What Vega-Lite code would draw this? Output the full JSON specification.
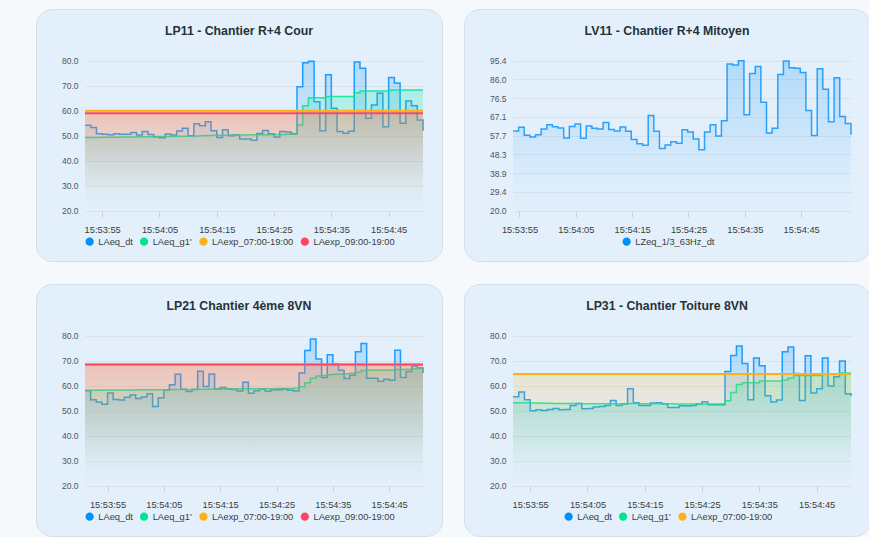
{
"$schema":"https://vega.github.io/schema/vega-lite/v6.json",
"background":"#f6f9fc",
"padding":{"left":35,"top":8,"right":0,"bottom":0},
"columns":2,
"bounds":"flush",
"spacing":{"row":23,"column":22},
"resolve":{"scale":{"color":"independent","x":"independent","y":"independent"},"legend":{"color":"independent"}},
"config":{"view":{"fill":"#e3f0fb","stroke":"#d3dee9","strokeWidth":1,"cornerRadius":16},"font":"Liberation Sans"},
"datasets":{
"lp11":[
{"t":"2024-05-10T15:53:52","dt":54.2,"g1":49.3},{"t":"2024-05-10T15:53:53","dt":53.3,"g1":49.3},{"t":"2024-05-10T15:53:54","dt":50.8,"g1":49.3},{"t":"2024-05-10T15:53:55","dt":50.6,"g1":49.4},{"t":"2024-05-10T15:53:56","dt":50.4,"g1":49.4},{"t":"2024-05-10T15:53:57","dt":50.8,"g1":49.4},{"t":"2024-05-10T15:53:58","dt":50.6,"g1":49.5},{"t":"2024-05-10T15:53:59","dt":50.6,"g1":49.5},
{"t":"2024-05-10T15:54:00","dt":51.3,"g1":49.5},{"t":"2024-05-10T15:54:01","dt":50.3,"g1":49.6},{"t":"2024-05-10T15:54:02","dt":51.7,"g1":49.6},{"t":"2024-05-10T15:54:03","dt":50.5,"g1":49.6},{"t":"2024-05-10T15:54:04","dt":49.6,"g1":49.7},{"t":"2024-05-10T15:54:05","dt":49.2,"g1":49.7},{"t":"2024-05-10T15:54:06","dt":50.7,"g1":49.7},{"t":"2024-05-10T15:54:07","dt":50.3,"g1":49.7},{"t":"2024-05-10T15:54:08","dt":51.9,"g1":49.8},{"t":"2024-05-10T15:54:09","dt":53.0,"g1":49.8},
{"t":"2024-05-10T15:54:10","dt":50.0,"g1":49.9},{"t":"2024-05-10T15:54:11","dt":54.8,"g1":49.9},{"t":"2024-05-10T15:54:12","dt":54.0,"g1":50.0},{"t":"2024-05-10T15:54:13","dt":55.6,"g1":50.1},{"t":"2024-05-10T15:54:14","dt":52.0,"g1":50.2},{"t":"2024-05-10T15:54:15","dt":49.3,"g1":50.2},{"t":"2024-05-10T15:54:16","dt":52.4,"g1":50.2},{"t":"2024-05-10T15:54:17","dt":50.0,"g1":50.3},{"t":"2024-05-10T15:54:18","dt":50.4,"g1":50.3},{"t":"2024-05-10T15:54:19","dt":48.7,"g1":50.3},
{"t":"2024-05-10T15:54:20","dt":48.7,"g1":50.4},{"t":"2024-05-10T15:54:21","dt":48.2,"g1":50.4},{"t":"2024-05-10T15:54:22","dt":50.9,"g1":50.4},{"t":"2024-05-10T15:54:23","dt":52.1,"g1":50.4},{"t":"2024-05-10T15:54:24","dt":50.8,"g1":50.5},{"t":"2024-05-10T15:54:25","dt":49.5,"g1":50.5},{"t":"2024-05-10T15:54:26","dt":51.7,"g1":50.5},{"t":"2024-05-10T15:54:27","dt":51.5,"g1":50.6},{"t":"2024-05-10T15:54:28","dt":50.8,"g1":50.6},{"t":"2024-05-10T15:54:29","dt":69.6,"g1":54.3},
{"t":"2024-05-10T15:54:30","dt":79.2,"g1":62.0},{"t":"2024-05-10T15:54:31","dt":79.8,"g1":65.2},{"t":"2024-05-10T15:54:32","dt":63.6,"g1":65.2},{"t":"2024-05-10T15:54:33","dt":52.0,"g1":65.2},{"t":"2024-05-10T15:54:34","dt":74.4,"g1":65.7},{"t":"2024-05-10T15:54:35","dt":61.0,"g1":65.7},{"t":"2024-05-10T15:54:36","dt":51.7,"g1":65.7},{"t":"2024-05-10T15:54:37","dt":51.0,"g1":65.7},{"t":"2024-05-10T15:54:38","dt":51.8,"g1":65.7},{"t":"2024-05-10T15:54:39","dt":79.5,"g1":67.2},
{"t":"2024-05-10T15:54:40","dt":77.0,"g1":67.9},{"t":"2024-05-10T15:54:41","dt":57.0,"g1":67.9},{"t":"2024-05-10T15:54:42","dt":62.3,"g1":67.9},{"t":"2024-05-10T15:54:43","dt":67.0,"g1":67.9},{"t":"2024-05-10T15:54:44","dt":53.6,"g1":67.9},{"t":"2024-05-10T15:54:45","dt":73.3,"g1":68.3},{"t":"2024-05-10T15:54:46","dt":71.1,"g1":68.3},{"t":"2024-05-10T15:54:47","dt":55.0,"g1":68.3},{"t":"2024-05-10T15:54:48","dt":63.9,"g1":68.3},{"t":"2024-05-10T15:54:49","dt":62.0,"g1":68.3},
{"t":"2024-05-10T15:54:50","dt":56.3,"g1":68.3},{"t":"2024-05-10T15:54:51","dt":52.0,"g1":68.3}
],
"lp11_lim":[{"t":"2024-05-10T15:53:52","e7":60,"e9":59},{"t":"2024-05-10T15:54:51","e7":60,"e9":59}],
"lv11":[
{"t":"2024-05-10T15:53:53.850","lz":60.0},{"t":"2024-05-10T15:53:54.850","lz":62.0},{"t":"2024-05-10T15:53:55.850","lz":57.9},{"t":"2024-05-10T15:53:56.850","lz":57.0},{"t":"2024-05-10T15:53:57.850","lz":58.2},{"t":"2024-05-10T15:53:58.850","lz":61.1},{"t":"2024-05-10T15:53:59.850","lz":63.2},
{"t":"2024-05-10T15:54:00.850","lz":62.2},{"t":"2024-05-10T15:54:01.850","lz":61.6},{"t":"2024-05-10T15:54:02.850","lz":56.5},{"t":"2024-05-10T15:54:03.850","lz":62.3},{"t":"2024-05-10T15:54:04.850","lz":63.6},{"t":"2024-05-10T15:54:05.850","lz":56.4},{"t":"2024-05-10T15:54:06.850","lz":62.6},{"t":"2024-05-10T15:54:07.850","lz":61.5},{"t":"2024-05-10T15:54:08.850","lz":61.1},{"t":"2024-05-10T15:54:09.850","lz":64.3},
{"t":"2024-05-10T15:54:10.850","lz":60.8},{"t":"2024-05-10T15:54:11.850","lz":60.0},{"t":"2024-05-10T15:54:12.850","lz":62.1},{"t":"2024-05-10T15:54:13.850","lz":59.9},{"t":"2024-05-10T15:54:14.850","lz":55.8},{"t":"2024-05-10T15:54:15.850","lz":53.6},{"t":"2024-05-10T15:54:16.850","lz":52.9},{"t":"2024-05-10T15:54:17.850","lz":67.8},{"t":"2024-05-10T15:54:18.850","lz":59.9},{"t":"2024-05-10T15:54:19.850","lz":51.3},
{"t":"2024-05-10T15:54:20.850","lz":53.0},{"t":"2024-05-10T15:54:21.850","lz":54.7},{"t":"2024-05-10T15:54:22.850","lz":53.9},{"t":"2024-05-10T15:54:23.850","lz":60.7},{"t":"2024-05-10T15:54:24.850","lz":59.6},{"t":"2024-05-10T15:54:25.850","lz":56.0},{"t":"2024-05-10T15:54:26.850","lz":50.7},{"t":"2024-05-10T15:54:27.850","lz":59.6},{"t":"2024-05-10T15:54:28.850","lz":63.2},{"t":"2024-05-10T15:54:29.850","lz":57.5},
{"t":"2024-05-10T15:54:30.850","lz":65.2},{"t":"2024-05-10T15:54:31.850","lz":93.8},{"t":"2024-05-10T15:54:32.850","lz":93.2},{"t":"2024-05-10T15:54:33.850","lz":95.4},{"t":"2024-05-10T15:54:34.850","lz":68.2},{"t":"2024-05-10T15:54:35.850","lz":89.0},{"t":"2024-05-10T15:54:36.850","lz":92.5},{"t":"2024-05-10T15:54:37.850","lz":74.5},{"t":"2024-05-10T15:54:38.850","lz":59.0},{"t":"2024-05-10T15:54:39.850","lz":61.4},
{"t":"2024-05-10T15:54:40.850","lz":88.5},{"t":"2024-05-10T15:54:41.850","lz":95.3},{"t":"2024-05-10T15:54:42.850","lz":91.8},{"t":"2024-05-10T15:54:43.850","lz":91.6},{"t":"2024-05-10T15:54:44.850","lz":89.5},{"t":"2024-05-10T15:54:45.850","lz":70.4},{"t":"2024-05-10T15:54:46.850","lz":57.8},{"t":"2024-05-10T15:54:47.850","lz":91.4},{"t":"2024-05-10T15:54:48.850","lz":81.1},{"t":"2024-05-10T15:54:49.850","lz":64.7},
{"t":"2024-05-10T15:54:50.850","lz":86.8},{"t":"2024-05-10T15:54:51.850","lz":67.4},{"t":"2024-05-10T15:54:52.850","lz":63.8},{"t":"2024-05-10T15:54:53.850","lz":58.2}
],
"lp21":[
{"t":"2024-05-10T15:53:51","dt":58.0,"g1":58.2},{"t":"2024-05-10T15:53:52","dt":54.4,"g1":58.2},{"t":"2024-05-10T15:53:53","dt":53.5,"g1":58.2},{"t":"2024-05-10T15:53:54","dt":52.6,"g1":58.3},{"t":"2024-05-10T15:53:55","dt":57.1,"g1":58.3},{"t":"2024-05-10T15:53:56","dt":54.5,"g1":58.3},{"t":"2024-05-10T15:53:57","dt":54.3,"g1":58.3},{"t":"2024-05-10T15:53:58","dt":55.4,"g1":58.3},{"t":"2024-05-10T15:53:59","dt":56.3,"g1":58.3},
{"t":"2024-05-10T15:54:00","dt":54.9,"g1":58.4},{"t":"2024-05-10T15:54:01","dt":55.5,"g1":58.4},{"t":"2024-05-10T15:54:02","dt":56.8,"g1":58.4},{"t":"2024-05-10T15:54:03","dt":51.7,"g1":58.4},{"t":"2024-05-10T15:54:04","dt":55.2,"g1":58.4},{"t":"2024-05-10T15:54:05","dt":58.3,"g1":58.4},{"t":"2024-05-10T15:54:06","dt":60.4,"g1":58.5},{"t":"2024-05-10T15:54:07","dt":64.6,"g1":58.5},{"t":"2024-05-10T15:54:08","dt":58.6,"g1":58.5},{"t":"2024-05-10T15:54:09","dt":57.7,"g1":58.5},
{"t":"2024-05-10T15:54:10","dt":58.5,"g1":58.6},{"t":"2024-05-10T15:54:11","dt":65.8,"g1":58.6},{"t":"2024-05-10T15:54:12","dt":59.7,"g1":58.6},{"t":"2024-05-10T15:54:13","dt":64.7,"g1":58.7},{"t":"2024-05-10T15:54:14","dt":58.7,"g1":58.7},{"t":"2024-05-10T15:54:15","dt":59.3,"g1":58.7},{"t":"2024-05-10T15:54:16","dt":58.8,"g1":58.7},{"t":"2024-05-10T15:54:17","dt":58.5,"g1":58.7},{"t":"2024-05-10T15:54:18","dt":57.9,"g1":58.8},{"t":"2024-05-10T15:54:19","dt":61.4,"g1":58.8},
{"t":"2024-05-10T15:54:20","dt":57.0,"g1":58.8},{"t":"2024-05-10T15:54:21","dt":58.0,"g1":58.8},{"t":"2024-05-10T15:54:22","dt":58.7,"g1":58.8},{"t":"2024-05-10T15:54:23","dt":57.8,"g1":58.8},{"t":"2024-05-10T15:54:24","dt":58.4,"g1":58.8},{"t":"2024-05-10T15:54:25","dt":58.4,"g1":58.9},{"t":"2024-05-10T15:54:26","dt":58.7,"g1":58.9},{"t":"2024-05-10T15:54:27","dt":58.2,"g1":58.9},{"t":"2024-05-10T15:54:28","dt":57.9,"g1":59.0},{"t":"2024-05-10T15:54:29","dt":65.1,"g1":59.6},
{"t":"2024-05-10T15:54:30","dt":74.1,"g1":61.2},{"t":"2024-05-10T15:54:31","dt":78.7,"g1":63.0},{"t":"2024-05-10T15:54:32","dt":70.7,"g1":63.9},{"t":"2024-05-10T15:54:33","dt":63.3,"g1":64.1},{"t":"2024-05-10T15:54:34","dt":72.4,"g1":64.4},{"t":"2024-05-10T15:54:35","dt":68.7,"g1":64.6},{"t":"2024-05-10T15:54:36","dt":66.2,"g1":64.7},{"t":"2024-05-10T15:54:37","dt":62.9,"g1":64.8},{"t":"2024-05-10T15:54:38","dt":64.2,"g1":65.0},{"t":"2024-05-10T15:54:39","dt":73.6,"g1":65.5},
{"t":"2024-05-10T15:54:40","dt":76.9,"g1":66.1},{"t":"2024-05-10T15:54:41","dt":63.0,"g1":66.2},{"t":"2024-05-10T15:54:42","dt":63.0,"g1":66.3},{"t":"2024-05-10T15:54:43","dt":61.8,"g1":66.3},{"t":"2024-05-10T15:54:44","dt":62.6,"g1":66.3},{"t":"2024-05-10T15:54:45","dt":62.2,"g1":66.3},{"t":"2024-05-10T15:54:46","dt":74.2,"g1":66.5},{"t":"2024-05-10T15:54:47","dt":63.3,"g1":66.5},{"t":"2024-05-10T15:54:48","dt":65.7,"g1":66.6},{"t":"2024-05-10T15:54:49","dt":67.9,"g1":66.8},
{"t":"2024-05-10T15:54:50","dt":67.1,"g1":67.0},{"t":"2024-05-10T15:54:51","dt":65.1,"g1":67.0}
],
"lp21_lim":[{"t":"2024-05-10T15:53:51","e7":68.5,"e9":68.5},{"t":"2024-05-10T15:54:51","e7":68.5,"e9":68.5}],
"lp31":[
{"t":"2024-05-10T15:53:52","dt":55.6,"g1":53.2},{"t":"2024-05-10T15:53:53","dt":57.5,"g1":53.2},{"t":"2024-05-10T15:53:54","dt":54.4,"g1":53.2},{"t":"2024-05-10T15:53:55","dt":50.0,"g1":53.1},{"t":"2024-05-10T15:53:56","dt":50.4,"g1":53.1},{"t":"2024-05-10T15:53:57","dt":50.1,"g1":53.0},{"t":"2024-05-10T15:53:58","dt":50.5,"g1":53.0},{"t":"2024-05-10T15:53:59","dt":50.9,"g1":52.9},
{"t":"2024-05-10T15:54:00","dt":50.4,"g1":52.9},{"t":"2024-05-10T15:54:01","dt":50.5,"g1":52.9},{"t":"2024-05-10T15:54:02","dt":52.1,"g1":52.9},{"t":"2024-05-10T15:54:03","dt":52.9,"g1":52.9},{"t":"2024-05-10T15:54:04","dt":50.8,"g1":52.8},{"t":"2024-05-10T15:54:05","dt":50.9,"g1":52.8},{"t":"2024-05-10T15:54:06","dt":51.5,"g1":52.8},{"t":"2024-05-10T15:54:07","dt":51.7,"g1":52.8},{"t":"2024-05-10T15:54:08","dt":52.1,"g1":52.8},{"t":"2024-05-10T15:54:09","dt":54.1,"g1":52.8},
{"t":"2024-05-10T15:54:10","dt":52.1,"g1":52.8},{"t":"2024-05-10T15:54:11","dt":52.7,"g1":52.8},{"t":"2024-05-10T15:54:12","dt":58.8,"g1":52.9},{"t":"2024-05-10T15:54:13","dt":53.2,"g1":52.9},{"t":"2024-05-10T15:54:14","dt":52.1,"g1":52.8},{"t":"2024-05-10T15:54:15","dt":52.1,"g1":52.8},{"t":"2024-05-10T15:54:16","dt":53.1,"g1":52.8},{"t":"2024-05-10T15:54:17","dt":53.2,"g1":52.8},{"t":"2024-05-10T15:54:18","dt":52.7,"g1":52.8},{"t":"2024-05-10T15:54:19","dt":51.3,"g1":52.8},
{"t":"2024-05-10T15:54:20","dt":51.3,"g1":52.7},{"t":"2024-05-10T15:54:21","dt":52.0,"g1":52.7},{"t":"2024-05-10T15:54:22","dt":51.9,"g1":52.7},{"t":"2024-05-10T15:54:23","dt":52.1,"g1":52.7},{"t":"2024-05-10T15:54:24","dt":52.7,"g1":52.7},{"t":"2024-05-10T15:54:25","dt":53.6,"g1":52.7},{"t":"2024-05-10T15:54:26","dt":52.4,"g1":52.7},{"t":"2024-05-10T15:54:27","dt":52.4,"g1":52.7},{"t":"2024-05-10T15:54:28","dt":52.4,"g1":52.7},{"t":"2024-05-10T15:54:29","dt":65.7,"g1":54.0},
{"t":"2024-05-10T15:54:30","dt":72.1,"g1":57.3},{"t":"2024-05-10T15:54:31","dt":75.9,"g1":60.5},{"t":"2024-05-10T15:54:32","dt":68.9,"g1":61.2},{"t":"2024-05-10T15:54:33","dt":54.4,"g1":61.2},{"t":"2024-05-10T15:54:34","dt":71.1,"g1":61.2},{"t":"2024-05-10T15:54:35","dt":68.0,"g1":61.9},{"t":"2024-05-10T15:54:36","dt":56.0,"g1":61.9},{"t":"2024-05-10T15:54:37","dt":53.5,"g1":61.9},{"t":"2024-05-10T15:54:38","dt":54.3,"g1":61.9},{"t":"2024-05-10T15:54:39","dt":73.6,"g1":62.3},
{"t":"2024-05-10T15:54:40","dt":75.5,"g1":63.1},{"t":"2024-05-10T15:54:41","dt":64.9,"g1":64.1},{"t":"2024-05-10T15:54:42","dt":54.1,"g1":64.1},{"t":"2024-05-10T15:54:43","dt":72.0,"g1":64.1},{"t":"2024-05-10T15:54:44","dt":57.1,"g1":64.1},{"t":"2024-05-10T15:54:45","dt":58.8,"g1":64.1},{"t":"2024-05-10T15:54:46","dt":71.1,"g1":64.6},{"t":"2024-05-10T15:54:47","dt":59.9,"g1":64.6},{"t":"2024-05-10T15:54:48","dt":63.6,"g1":64.6},{"t":"2024-05-10T15:54:49","dt":69.9,"g1":65.1},
{"t":"2024-05-10T15:54:50","dt":56.8,"g1":65.1},{"t":"2024-05-10T15:54:51","dt":55.9,"g1":65.1}
],
"lp31_lim":[{"t":"2024-05-10T15:53:52","e7":64.7},{"t":"2024-05-10T15:54:51","e7":64.7}]
},
"concat":[
{
"width":406,"height":252,
"title":{"text":"LP11 - Chantier R+4 Cour","anchor":"middle","frame":"group","orient":"top","offset":-34,"baseline":"middle","font":"Liberation Sans","fontSize":12.3,"fontWeight":"bold","color":"#263238"},
"encoding":{"x":{"field":"t","type":"temporal","scale":{"range":[49,387],"nice":false},"axis":{"orient":"bottom","offset":-50.3,"values":[{"year":2024,"month":5,"date":10,"hours":15,"minutes":53,"seconds":55},{"year":2024,"month":5,"date":10,"hours":15,"minutes":54,"seconds":5},{"year":2024,"month":5,"date":10,"hours":15,"minutes":54,"seconds":15},{"year":2024,"month":5,"date":10,"hours":15,"minutes":54,"seconds":25},{"year":2024,"month":5,"date":10,"hours":15,"minutes":54,"seconds":35},{"year":2024,"month":5,"date":10,"hours":15,"minutes":54,"seconds":45}],"format":"%H:%M:%S","labelFont":"Liberation Sans","labelFontSize":9.3,"labelColor":"#373d3f","tickSize":6,"tickColor":"#c9d1d9","domain":false,"grid":false,"labelPadding":9,"title":null,"labelOverlap":false,"labelFlush":false}}},
"layer":[
{"data":{"name":"lp11"},"mark":{"type":"area","interpolate":"step-after","fill":{"gradient":"linear","x1":0,"y1":0,"x2":0,"y2":1,"stops":[{"offset":0,"color":"rgba(0,143,251,0.22)"},{"offset":0.5,"color":"rgba(0,143,251,0.09)"},{"offset":0.8,"color":"rgba(0,143,251,0.02)"},{"offset":1,"color":"rgba(0,143,251,0)"}]}},"encoding":{"y":{"field":"dt","type":"quantitative","scale":{"domain":[20,80],"range":[201.7,51.7],"zero":false,"nice":false},"axis":{"orient":"left","offset":-49,"values":[20,30,40,50,60,70,80],"format":".1f","labelFont":"Liberation Sans","labelFontSize":8.5,"labelColor":"#4b5563","ticks":false,"domain":false,"grid":true,"gridColor":"#d9e2ea","labelPadding":7,"title":null}},"y2":{"datum":20}}},
{"data":{"name":"lp11"},"mark":{"type":"line","interpolate":"step-after","stroke":"#008FFB","strokeWidth":1.5,"strokeOpacity":0.85},"encoding":{"y":{"field":"dt","type":"quantitative","scale":{"domain":[20,80],"range":[201.7,51.7],"zero":false,"nice":false},"axis":{"orient":"left","offset":-49,"values":[20,30,40,50,60,70,80],"format":".1f","labelFont":"Liberation Sans","labelFontSize":8.5,"labelColor":"#4b5563","ticks":false,"domain":false,"grid":true,"gridColor":"#d9e2ea","labelPadding":7,"title":null}}}},
{"data":{"name":"lp11"},"mark":{"type":"area","interpolate":"step-after","fill":{"gradient":"linear","x1":0,"y1":0,"x2":0,"y2":1,"stops":[{"offset":0,"color":"rgba(0,227,150,0.24)"},{"offset":0.5,"color":"rgba(0,227,150,0.1)"},{"offset":0.8,"color":"rgba(0,227,150,0.02)"},{"offset":1,"color":"rgba(0,227,150,0)"}]}},"encoding":{"y":{"field":"g1","type":"quantitative","scale":{"domain":[20,80],"range":[201.7,51.7],"zero":false,"nice":false},"axis":{"orient":"left","offset":-49,"values":[20,30,40,50,60,70,80],"format":".1f","labelFont":"Liberation Sans","labelFontSize":8.5,"labelColor":"#4b5563","ticks":false,"domain":false,"grid":true,"gridColor":"#d9e2ea","labelPadding":7,"title":null}},"y2":{"datum":20}}},
{"data":{"name":"lp11"},"mark":{"type":"line","interpolate":"step-after","stroke":"#00E396","strokeWidth":1.5,"strokeOpacity":0.85},"encoding":{"y":{"field":"g1","type":"quantitative","scale":{"domain":[20,80],"range":[201.7,51.7],"zero":false,"nice":false},"axis":{"orient":"left","offset":-49,"values":[20,30,40,50,60,70,80],"format":".1f","labelFont":"Liberation Sans","labelFontSize":8.5,"labelColor":"#4b5563","ticks":false,"domain":false,"grid":true,"gridColor":"#d9e2ea","labelPadding":7,"title":null}}}},
{"data":{"name":"lp11_lim"},"mark":{"type":"area","interpolate":"step-after","fill":{"gradient":"linear","x1":0,"y1":0,"x2":0,"y2":1,"stops":[{"offset":0,"color":"rgba(254,176,25,0.2)"},{"offset":0.5,"color":"rgba(254,176,25,0.08)"},{"offset":0.8,"color":"rgba(254,176,25,0.015)"},{"offset":1,"color":"rgba(254,176,25,0)"}]}},"encoding":{"y":{"field":"e7","type":"quantitative","scale":{"domain":[20,80],"range":[201.7,51.7],"zero":false,"nice":false},"axis":{"orient":"left","offset":-49,"values":[20,30,40,50,60,70,80],"format":".1f","labelFont":"Liberation Sans","labelFontSize":8.5,"labelColor":"#4b5563","ticks":false,"domain":false,"grid":true,"gridColor":"#d9e2ea","labelPadding":7,"title":null}},"y2":{"datum":20}}},
{"data":{"name":"lp11_lim"},"mark":{"type":"line","interpolate":"step-after","stroke":"#FEB019","strokeWidth":2},"encoding":{"y":{"field":"e7","type":"quantitative","scale":{"domain":[20,80],"range":[201.7,51.7],"zero":false,"nice":false},"axis":{"orient":"left","offset":-49,"values":[20,30,40,50,60,70,80],"format":".1f","labelFont":"Liberation Sans","labelFontSize":8.5,"labelColor":"#4b5563","ticks":false,"domain":false,"grid":true,"gridColor":"#d9e2ea","labelPadding":7,"title":null}}}},
{"data":{"name":"lp11_lim"},"mark":{"type":"area","interpolate":"step-after","fill":{"gradient":"linear","x1":0,"y1":0,"x2":0,"y2":1,"stops":[{"offset":0,"color":"rgba(255,69,96,0.2)"},{"offset":0.5,"color":"rgba(255,69,96,0.08)"},{"offset":0.8,"color":"rgba(255,69,96,0.015)"},{"offset":1,"color":"rgba(255,69,96,0)"}]}},"encoding":{"y":{"field":"e9","type":"quantitative","scale":{"domain":[20,80],"range":[201.7,51.7],"zero":false,"nice":false},"axis":{"orient":"left","offset":-49,"values":[20,30,40,50,60,70,80],"format":".1f","labelFont":"Liberation Sans","labelFontSize":8.5,"labelColor":"#4b5563","ticks":false,"domain":false,"grid":true,"gridColor":"#d9e2ea","labelPadding":7,"title":null}},"y2":{"datum":20}}},
{"data":{"name":"lp11_lim"},"mark":{"type":"line","interpolate":"step-after","stroke":"#FF4560","strokeWidth":2},"encoding":{"y":{"field":"e9","type":"quantitative","scale":{"domain":[20,80],"range":[201.7,51.7],"zero":false,"nice":false},"axis":{"orient":"left","offset":-49,"values":[20,30,40,50,60,70,80],"format":".1f","labelFont":"Liberation Sans","labelFontSize":8.5,"labelColor":"#4b5563","ticks":false,"domain":false,"grid":true,"gridColor":"#d9e2ea","labelPadding":7,"title":null}}}},
{"data":{"name":"lp11"},"mark":{"type":"point","filled":true,"size":0,"opacity":1},"encoding":{"y":{"field":"dt","type":"quantitative","scale":{"domain":[20,80],"range":[201.7,51.7],"zero":false,"nice":false},"axis":{"orient":"left","offset":-49,"values":[20,30,40,50,60,70,80],"format":".1f","labelFont":"Liberation Sans","labelFontSize":8.5,"labelColor":"#4b5563","ticks":false,"domain":false,"grid":true,"gridColor":"#d9e2ea","labelPadding":7,"title":null}},"color":{"datum":"LAeq_dt","type":"nominal","scale":{"domain":["LAeq_dt","LAeq_g1'","LAexp_07:00-19:00","LAexp_09:00-19:00"],"range":["#008FFB","#00E396","#FEB019","#FF4560"]},"legend":{"orient":"none","legendX":49,"legendY":228,"direction":"horizontal","title":null,"symbolType":"circle","symbolSize":68,"symbolStrokeWidth":0,"symbolOpacity":1,"labelFont":"Liberation Sans","labelFontSize":9.3,"labelColor":"#373d3f","columnPadding":6.4,"labelOffset":4,"padding":0}}}},
{"data":{"name":"lp11"},"mark":{"type":"point","filled":true,"size":0,"opacity":1},"encoding":{"y":{"field":"g1","type":"quantitative","scale":{"domain":[20,80],"range":[201.7,51.7],"zero":false,"nice":false},"axis":{"orient":"left","offset":-49,"values":[20,30,40,50,60,70,80],"format":".1f","labelFont":"Liberation Sans","labelFontSize":8.5,"labelColor":"#4b5563","ticks":false,"domain":false,"grid":true,"gridColor":"#d9e2ea","labelPadding":7,"title":null}},"color":{"datum":"LAeq_g1'","type":"nominal","scale":{"domain":["LAeq_dt","LAeq_g1'","LAexp_07:00-19:00","LAexp_09:00-19:00"],"range":["#008FFB","#00E396","#FEB019","#FF4560"]},"legend":{"orient":"none","legendX":49,"legendY":228,"direction":"horizontal","title":null,"symbolType":"circle","symbolSize":68,"symbolStrokeWidth":0,"symbolOpacity":1,"labelFont":"Liberation Sans","labelFontSize":9.3,"labelColor":"#373d3f","columnPadding":6.4,"labelOffset":4,"padding":0}}}},
{"data":{"name":"lp11_lim"},"mark":{"type":"point","filled":true,"size":0,"opacity":1},"encoding":{"y":{"field":"e7","type":"quantitative","scale":{"domain":[20,80],"range":[201.7,51.7],"zero":false,"nice":false},"axis":{"orient":"left","offset":-49,"values":[20,30,40,50,60,70,80],"format":".1f","labelFont":"Liberation Sans","labelFontSize":8.5,"labelColor":"#4b5563","ticks":false,"domain":false,"grid":true,"gridColor":"#d9e2ea","labelPadding":7,"title":null}},"color":{"datum":"LAexp_07:00-19:00","type":"nominal","scale":{"domain":["LAeq_dt","LAeq_g1'","LAexp_07:00-19:00","LAexp_09:00-19:00"],"range":["#008FFB","#00E396","#FEB019","#FF4560"]},"legend":{"orient":"none","legendX":49,"legendY":228,"direction":"horizontal","title":null,"symbolType":"circle","symbolSize":68,"symbolStrokeWidth":0,"symbolOpacity":1,"labelFont":"Liberation Sans","labelFontSize":9.3,"labelColor":"#373d3f","columnPadding":6.4,"labelOffset":4,"padding":0}}}},
{"data":{"name":"lp11_lim"},"mark":{"type":"point","filled":true,"size":0,"opacity":1},"encoding":{"y":{"field":"e9","type":"quantitative","scale":{"domain":[20,80],"range":[201.7,51.7],"zero":false,"nice":false},"axis":{"orient":"left","offset":-49,"values":[20,30,40,50,60,70,80],"format":".1f","labelFont":"Liberation Sans","labelFontSize":8.5,"labelColor":"#4b5563","ticks":false,"domain":false,"grid":true,"gridColor":"#d9e2ea","labelPadding":7,"title":null}},"color":{"datum":"LAexp_09:00-19:00","type":"nominal","scale":{"domain":["LAeq_dt","LAeq_g1'","LAexp_07:00-19:00","LAexp_09:00-19:00"],"range":["#008FFB","#00E396","#FEB019","#FF4560"]},"legend":{"orient":"none","legendX":49,"legendY":228,"direction":"horizontal","title":null,"symbolType":"circle","symbolSize":68,"symbolStrokeWidth":0,"symbolOpacity":1,"labelFont":"Liberation Sans","labelFontSize":9.3,"labelColor":"#373d3f","columnPadding":6.4,"labelOffset":4,"padding":0}}}}
]
},
{
"width":406,"height":252,
"title":{"text":"LV11 - Chantier R+4 Mitoyen","anchor":"middle","frame":"group","orient":"top","offset":-34,"baseline":"middle","font":"Liberation Sans","fontSize":12.3,"fontWeight":"bold","color":"#263238"},
"encoding":{"x":{"field":"t","type":"temporal","scale":{"range":[49,387],"nice":false},"axis":{"orient":"bottom","offset":-50.3,"values":[{"year":2024,"month":5,"date":10,"hours":15,"minutes":53,"seconds":55},{"year":2024,"month":5,"date":10,"hours":15,"minutes":54,"seconds":5},{"year":2024,"month":5,"date":10,"hours":15,"minutes":54,"seconds":15},{"year":2024,"month":5,"date":10,"hours":15,"minutes":54,"seconds":25},{"year":2024,"month":5,"date":10,"hours":15,"minutes":54,"seconds":35},{"year":2024,"month":5,"date":10,"hours":15,"minutes":54,"seconds":45}],"format":"%H:%M:%S","labelFont":"Liberation Sans","labelFontSize":9.3,"labelColor":"#373d3f","tickSize":6,"tickColor":"#c9d1d9","domain":false,"grid":false,"labelPadding":9,"title":null,"labelOverlap":false,"labelFlush":false}}},
"layer":[
{"data":{"name":"lv11"},"mark":{"type":"area","interpolate":"step-after","fill":{"gradient":"linear","x1":0,"y1":0,"x2":0,"y2":1,"stops":[{"offset":0,"color":"rgba(0,143,251,0.22)"},{"offset":0.5,"color":"rgba(0,143,251,0.1)"},{"offset":0.8,"color":"rgba(0,143,251,0.035)"},{"offset":1,"color":"rgba(0,143,251,0.01)"}]}},"encoding":{"y":{"field":"lz","type":"quantitative","scale":{"domain":[20,95.4],"range":[201.7,51.7],"zero":false,"nice":false},"axis":{"orient":"left","offset":-49,"values":[20,29.425,38.85,48.275,57.7,67.125,76.55,85.975,95.4],"format":".1f","labelFont":"Liberation Sans","labelFontSize":8.5,"labelColor":"#4b5563","ticks":false,"domain":false,"grid":true,"gridColor":"#d9e2ea","labelPadding":7,"title":null}},"y2":{"datum":20}}},
{"data":{"name":"lv11"},"mark":{"type":"line","interpolate":"step-after","stroke":"#008FFB","strokeWidth":1.5,"strokeOpacity":0.8},"encoding":{"y":{"field":"lz","type":"quantitative","scale":{"domain":[20,95.4],"range":[201.7,51.7],"zero":false,"nice":false},"axis":{"orient":"left","offset":-49,"values":[20,29.425,38.85,48.275,57.7,67.125,76.55,85.975,95.4],"format":".1f","labelFont":"Liberation Sans","labelFontSize":8.5,"labelColor":"#4b5563","ticks":false,"domain":false,"grid":true,"gridColor":"#d9e2ea","labelPadding":7,"title":null}}}},
{"data":{"name":"lv11"},"mark":{"type":"point","filled":true,"size":0,"opacity":1},"encoding":{"y":{"field":"lz","type":"quantitative","scale":{"domain":[20,95.4],"range":[201.7,51.7],"zero":false,"nice":false},"axis":{"orient":"left","offset":-49,"values":[20,29.425,38.85,48.275,57.7,67.125,76.55,85.975,95.4],"format":".1f","labelFont":"Liberation Sans","labelFontSize":8.5,"labelColor":"#4b5563","ticks":false,"domain":false,"grid":true,"gridColor":"#d9e2ea","labelPadding":7,"title":null}},"color":{"datum":"LZeq_1/3_63Hz_dt","type":"nominal","scale":{"domain":["LZeq_1/3_63Hz_dt"],"range":["#008FFB"]},"legend":{"orient":"none","legendX":158,"legendY":228,"direction":"horizontal","title":null,"symbolType":"circle","symbolSize":68,"symbolStrokeWidth":0,"symbolOpacity":1,"labelFont":"Liberation Sans","labelFontSize":9.3,"labelColor":"#373d3f","columnPadding":6.4,"labelOffset":4,"padding":0}}}}
]
},
{
"width":406,"height":252,
"title":{"text":"LP21 Chantier 4ème 8VN","anchor":"middle","frame":"group","orient":"top","offset":-34,"baseline":"middle","font":"Liberation Sans","fontSize":12.3,"fontWeight":"bold","color":"#263238"},
"encoding":{"x":{"field":"t","type":"temporal","scale":{"range":[49,387],"nice":false},"axis":{"orient":"bottom","offset":-50.3,"values":[{"year":2024,"month":5,"date":10,"hours":15,"minutes":53,"seconds":55},{"year":2024,"month":5,"date":10,"hours":15,"minutes":54,"seconds":5},{"year":2024,"month":5,"date":10,"hours":15,"minutes":54,"seconds":15},{"year":2024,"month":5,"date":10,"hours":15,"minutes":54,"seconds":25},{"year":2024,"month":5,"date":10,"hours":15,"minutes":54,"seconds":35},{"year":2024,"month":5,"date":10,"hours":15,"minutes":54,"seconds":45}],"format":"%H:%M:%S","labelFont":"Liberation Sans","labelFontSize":9.3,"labelColor":"#373d3f","tickSize":6,"tickColor":"#c9d1d9","domain":false,"grid":false,"labelPadding":9,"title":null,"labelOverlap":false,"labelFlush":false}}},
"layer":[
{"data":{"name":"lp21"},"mark":{"type":"area","interpolate":"step-after","fill":{"gradient":"linear","x1":0,"y1":0,"x2":0,"y2":1,"stops":[{"offset":0,"color":"rgba(0,143,251,0.22)"},{"offset":0.5,"color":"rgba(0,143,251,0.09)"},{"offset":0.8,"color":"rgba(0,143,251,0.02)"},{"offset":1,"color":"rgba(0,143,251,0)"}]}},"encoding":{"y":{"field":"dt","type":"quantitative","scale":{"domain":[20,80],"range":[201.7,51.7],"zero":false,"nice":false},"axis":{"orient":"left","offset":-49,"values":[20,30,40,50,60,70,80],"format":".1f","labelFont":"Liberation Sans","labelFontSize":8.5,"labelColor":"#4b5563","ticks":false,"domain":false,"grid":true,"gridColor":"#d9e2ea","labelPadding":7,"title":null}},"y2":{"datum":20}}},
{"data":{"name":"lp21"},"mark":{"type":"line","interpolate":"step-after","stroke":"#008FFB","strokeWidth":1.5,"strokeOpacity":0.85},"encoding":{"y":{"field":"dt","type":"quantitative","scale":{"domain":[20,80],"range":[201.7,51.7],"zero":false,"nice":false},"axis":{"orient":"left","offset":-49,"values":[20,30,40,50,60,70,80],"format":".1f","labelFont":"Liberation Sans","labelFontSize":8.5,"labelColor":"#4b5563","ticks":false,"domain":false,"grid":true,"gridColor":"#d9e2ea","labelPadding":7,"title":null}}}},
{"data":{"name":"lp21"},"mark":{"type":"area","interpolate":"step-after","fill":{"gradient":"linear","x1":0,"y1":0,"x2":0,"y2":1,"stops":[{"offset":0,"color":"rgba(0,227,150,0.24)"},{"offset":0.5,"color":"rgba(0,227,150,0.1)"},{"offset":0.8,"color":"rgba(0,227,150,0.02)"},{"offset":1,"color":"rgba(0,227,150,0)"}]}},"encoding":{"y":{"field":"g1","type":"quantitative","scale":{"domain":[20,80],"range":[201.7,51.7],"zero":false,"nice":false},"axis":{"orient":"left","offset":-49,"values":[20,30,40,50,60,70,80],"format":".1f","labelFont":"Liberation Sans","labelFontSize":8.5,"labelColor":"#4b5563","ticks":false,"domain":false,"grid":true,"gridColor":"#d9e2ea","labelPadding":7,"title":null}},"y2":{"datum":20}}},
{"data":{"name":"lp21"},"mark":{"type":"line","interpolate":"step-after","stroke":"#00E396","strokeWidth":1.5,"strokeOpacity":0.85},"encoding":{"y":{"field":"g1","type":"quantitative","scale":{"domain":[20,80],"range":[201.7,51.7],"zero":false,"nice":false},"axis":{"orient":"left","offset":-49,"values":[20,30,40,50,60,70,80],"format":".1f","labelFont":"Liberation Sans","labelFontSize":8.5,"labelColor":"#4b5563","ticks":false,"domain":false,"grid":true,"gridColor":"#d9e2ea","labelPadding":7,"title":null}}}},
{"data":{"name":"lp21_lim"},"mark":{"type":"area","interpolate":"step-after","fill":{"gradient":"linear","x1":0,"y1":0,"x2":0,"y2":1,"stops":[{"offset":0,"color":"rgba(254,176,25,0.2)"},{"offset":0.5,"color":"rgba(254,176,25,0.08)"},{"offset":0.8,"color":"rgba(254,176,25,0.015)"},{"offset":1,"color":"rgba(254,176,25,0)"}]}},"encoding":{"y":{"field":"e7","type":"quantitative","scale":{"domain":[20,80],"range":[201.7,51.7],"zero":false,"nice":false},"axis":{"orient":"left","offset":-49,"values":[20,30,40,50,60,70,80],"format":".1f","labelFont":"Liberation Sans","labelFontSize":8.5,"labelColor":"#4b5563","ticks":false,"domain":false,"grid":true,"gridColor":"#d9e2ea","labelPadding":7,"title":null}},"y2":{"datum":20}}},
{"data":{"name":"lp21_lim"},"mark":{"type":"line","interpolate":"step-after","stroke":"#FEB019","strokeWidth":2},"encoding":{"y":{"field":"e7","type":"quantitative","scale":{"domain":[20,80],"range":[201.7,51.7],"zero":false,"nice":false},"axis":{"orient":"left","offset":-49,"values":[20,30,40,50,60,70,80],"format":".1f","labelFont":"Liberation Sans","labelFontSize":8.5,"labelColor":"#4b5563","ticks":false,"domain":false,"grid":true,"gridColor":"#d9e2ea","labelPadding":7,"title":null}}}},
{"data":{"name":"lp21_lim"},"mark":{"type":"area","interpolate":"step-after","fill":{"gradient":"linear","x1":0,"y1":0,"x2":0,"y2":1,"stops":[{"offset":0,"color":"rgba(255,69,96,0.2)"},{"offset":0.5,"color":"rgba(255,69,96,0.08)"},{"offset":0.8,"color":"rgba(255,69,96,0.015)"},{"offset":1,"color":"rgba(255,69,96,0)"}]}},"encoding":{"y":{"field":"e9","type":"quantitative","scale":{"domain":[20,80],"range":[201.7,51.7],"zero":false,"nice":false},"axis":{"orient":"left","offset":-49,"values":[20,30,40,50,60,70,80],"format":".1f","labelFont":"Liberation Sans","labelFontSize":8.5,"labelColor":"#4b5563","ticks":false,"domain":false,"grid":true,"gridColor":"#d9e2ea","labelPadding":7,"title":null}},"y2":{"datum":20}}},
{"data":{"name":"lp21_lim"},"mark":{"type":"line","interpolate":"step-after","stroke":"#FF4560","strokeWidth":2},"encoding":{"y":{"field":"e9","type":"quantitative","scale":{"domain":[20,80],"range":[201.7,51.7],"zero":false,"nice":false},"axis":{"orient":"left","offset":-49,"values":[20,30,40,50,60,70,80],"format":".1f","labelFont":"Liberation Sans","labelFontSize":8.5,"labelColor":"#4b5563","ticks":false,"domain":false,"grid":true,"gridColor":"#d9e2ea","labelPadding":7,"title":null}}}},
{"data":{"name":"lp21"},"mark":{"type":"point","filled":true,"size":0,"opacity":1},"encoding":{"y":{"field":"dt","type":"quantitative","scale":{"domain":[20,80],"range":[201.7,51.7],"zero":false,"nice":false},"axis":{"orient":"left","offset":-49,"values":[20,30,40,50,60,70,80],"format":".1f","labelFont":"Liberation Sans","labelFontSize":8.5,"labelColor":"#4b5563","ticks":false,"domain":false,"grid":true,"gridColor":"#d9e2ea","labelPadding":7,"title":null}},"color":{"datum":"LAeq_dt","type":"nominal","scale":{"domain":["LAeq_dt","LAeq_g1'","LAexp_07:00-19:00","LAexp_09:00-19:00"],"range":["#008FFB","#00E396","#FEB019","#FF4560"]},"legend":{"orient":"none","legendX":49,"legendY":228,"direction":"horizontal","title":null,"symbolType":"circle","symbolSize":68,"symbolStrokeWidth":0,"symbolOpacity":1,"labelFont":"Liberation Sans","labelFontSize":9.3,"labelColor":"#373d3f","columnPadding":6.4,"labelOffset":4,"padding":0}}}},
{"data":{"name":"lp21"},"mark":{"type":"point","filled":true,"size":0,"opacity":1},"encoding":{"y":{"field":"g1","type":"quantitative","scale":{"domain":[20,80],"range":[201.7,51.7],"zero":false,"nice":false},"axis":{"orient":"left","offset":-49,"values":[20,30,40,50,60,70,80],"format":".1f","labelFont":"Liberation Sans","labelFontSize":8.5,"labelColor":"#4b5563","ticks":false,"domain":false,"grid":true,"gridColor":"#d9e2ea","labelPadding":7,"title":null}},"color":{"datum":"LAeq_g1'","type":"nominal","scale":{"domain":["LAeq_dt","LAeq_g1'","LAexp_07:00-19:00","LAexp_09:00-19:00"],"range":["#008FFB","#00E396","#FEB019","#FF4560"]},"legend":{"orient":"none","legendX":49,"legendY":228,"direction":"horizontal","title":null,"symbolType":"circle","symbolSize":68,"symbolStrokeWidth":0,"symbolOpacity":1,"labelFont":"Liberation Sans","labelFontSize":9.3,"labelColor":"#373d3f","columnPadding":6.4,"labelOffset":4,"padding":0}}}},
{"data":{"name":"lp21_lim"},"mark":{"type":"point","filled":true,"size":0,"opacity":1},"encoding":{"y":{"field":"e7","type":"quantitative","scale":{"domain":[20,80],"range":[201.7,51.7],"zero":false,"nice":false},"axis":{"orient":"left","offset":-49,"values":[20,30,40,50,60,70,80],"format":".1f","labelFont":"Liberation Sans","labelFontSize":8.5,"labelColor":"#4b5563","ticks":false,"domain":false,"grid":true,"gridColor":"#d9e2ea","labelPadding":7,"title":null}},"color":{"datum":"LAexp_07:00-19:00","type":"nominal","scale":{"domain":["LAeq_dt","LAeq_g1'","LAexp_07:00-19:00","LAexp_09:00-19:00"],"range":["#008FFB","#00E396","#FEB019","#FF4560"]},"legend":{"orient":"none","legendX":49,"legendY":228,"direction":"horizontal","title":null,"symbolType":"circle","symbolSize":68,"symbolStrokeWidth":0,"symbolOpacity":1,"labelFont":"Liberation Sans","labelFontSize":9.3,"labelColor":"#373d3f","columnPadding":6.4,"labelOffset":4,"padding":0}}}},
{"data":{"name":"lp21_lim"},"mark":{"type":"point","filled":true,"size":0,"opacity":1},"encoding":{"y":{"field":"e9","type":"quantitative","scale":{"domain":[20,80],"range":[201.7,51.7],"zero":false,"nice":false},"axis":{"orient":"left","offset":-49,"values":[20,30,40,50,60,70,80],"format":".1f","labelFont":"Liberation Sans","labelFontSize":8.5,"labelColor":"#4b5563","ticks":false,"domain":false,"grid":true,"gridColor":"#d9e2ea","labelPadding":7,"title":null}},"color":{"datum":"LAexp_09:00-19:00","type":"nominal","scale":{"domain":["LAeq_dt","LAeq_g1'","LAexp_07:00-19:00","LAexp_09:00-19:00"],"range":["#008FFB","#00E396","#FEB019","#FF4560"]},"legend":{"orient":"none","legendX":49,"legendY":228,"direction":"horizontal","title":null,"symbolType":"circle","symbolSize":68,"symbolStrokeWidth":0,"symbolOpacity":1,"labelFont":"Liberation Sans","labelFontSize":9.3,"labelColor":"#373d3f","columnPadding":6.4,"labelOffset":4,"padding":0}}}}
]
},
{
"width":406,"height":252,
"title":{"text":"LP31 - Chantier Toiture 8VN","anchor":"middle","frame":"group","orient":"top","offset":-34,"baseline":"middle","font":"Liberation Sans","fontSize":12.3,"fontWeight":"bold","color":"#263238"},
"encoding":{"x":{"field":"t","type":"temporal","scale":{"range":[49,387],"nice":false},"axis":{"orient":"bottom","offset":-50.3,"values":[{"year":2024,"month":5,"date":10,"hours":15,"minutes":53,"seconds":55},{"year":2024,"month":5,"date":10,"hours":15,"minutes":54,"seconds":5},{"year":2024,"month":5,"date":10,"hours":15,"minutes":54,"seconds":15},{"year":2024,"month":5,"date":10,"hours":15,"minutes":54,"seconds":25},{"year":2024,"month":5,"date":10,"hours":15,"minutes":54,"seconds":35},{"year":2024,"month":5,"date":10,"hours":15,"minutes":54,"seconds":45}],"format":"%H:%M:%S","labelFont":"Liberation Sans","labelFontSize":9.3,"labelColor":"#373d3f","tickSize":6,"tickColor":"#c9d1d9","domain":false,"grid":false,"labelPadding":9,"title":null,"labelOverlap":false,"labelFlush":false}}},
"layer":[
{"data":{"name":"lp31"},"mark":{"type":"area","interpolate":"step-after","fill":{"gradient":"linear","x1":0,"y1":0,"x2":0,"y2":1,"stops":[{"offset":0,"color":"rgba(0,143,251,0.22)"},{"offset":0.5,"color":"rgba(0,143,251,0.09)"},{"offset":0.8,"color":"rgba(0,143,251,0.02)"},{"offset":1,"color":"rgba(0,143,251,0)"}]}},"encoding":{"y":{"field":"dt","type":"quantitative","scale":{"domain":[20,80],"range":[201.7,51.7],"zero":false,"nice":false},"axis":{"orient":"left","offset":-49,"values":[20,30,40,50,60,70,80],"format":".1f","labelFont":"Liberation Sans","labelFontSize":8.5,"labelColor":"#4b5563","ticks":false,"domain":false,"grid":true,"gridColor":"#d9e2ea","labelPadding":7,"title":null}},"y2":{"datum":20}}},
{"data":{"name":"lp31"},"mark":{"type":"line","interpolate":"step-after","stroke":"#008FFB","strokeWidth":1.5,"strokeOpacity":0.85},"encoding":{"y":{"field":"dt","type":"quantitative","scale":{"domain":[20,80],"range":[201.7,51.7],"zero":false,"nice":false},"axis":{"orient":"left","offset":-49,"values":[20,30,40,50,60,70,80],"format":".1f","labelFont":"Liberation Sans","labelFontSize":8.5,"labelColor":"#4b5563","ticks":false,"domain":false,"grid":true,"gridColor":"#d9e2ea","labelPadding":7,"title":null}}}},
{"data":{"name":"lp31"},"mark":{"type":"area","interpolate":"step-after","fill":{"gradient":"linear","x1":0,"y1":0,"x2":0,"y2":1,"stops":[{"offset":0,"color":"rgba(0,227,150,0.2)"},{"offset":0.5,"color":"rgba(0,227,150,0.085)"},{"offset":0.8,"color":"rgba(0,227,150,0.02)"},{"offset":1,"color":"rgba(0,227,150,0)"}]}},"encoding":{"y":{"field":"g1","type":"quantitative","scale":{"domain":[20,80],"range":[201.7,51.7],"zero":false,"nice":false},"axis":{"orient":"left","offset":-49,"values":[20,30,40,50,60,70,80],"format":".1f","labelFont":"Liberation Sans","labelFontSize":8.5,"labelColor":"#4b5563","ticks":false,"domain":false,"grid":true,"gridColor":"#d9e2ea","labelPadding":7,"title":null}},"y2":{"datum":20}}},
{"data":{"name":"lp31"},"mark":{"type":"line","interpolate":"step-after","stroke":"#00E396","strokeWidth":1.5,"strokeOpacity":0.85},"encoding":{"y":{"field":"g1","type":"quantitative","scale":{"domain":[20,80],"range":[201.7,51.7],"zero":false,"nice":false},"axis":{"orient":"left","offset":-49,"values":[20,30,40,50,60,70,80],"format":".1f","labelFont":"Liberation Sans","labelFontSize":8.5,"labelColor":"#4b5563","ticks":false,"domain":false,"grid":true,"gridColor":"#d9e2ea","labelPadding":7,"title":null}}}},
{"data":{"name":"lp31_lim"},"mark":{"type":"area","interpolate":"step-after","fill":{"gradient":"linear","x1":0,"y1":0,"x2":0,"y2":1,"stops":[{"offset":0,"color":"rgba(254,176,25,0.18)"},{"offset":0.5,"color":"rgba(254,176,25,0.075)"},{"offset":0.8,"color":"rgba(254,176,25,0.015)"},{"offset":1,"color":"rgba(254,176,25,0)"}]}},"encoding":{"y":{"field":"e7","type":"quantitative","scale":{"domain":[20,80],"range":[201.7,51.7],"zero":false,"nice":false},"axis":{"orient":"left","offset":-49,"values":[20,30,40,50,60,70,80],"format":".1f","labelFont":"Liberation Sans","labelFontSize":8.5,"labelColor":"#4b5563","ticks":false,"domain":false,"grid":true,"gridColor":"#d9e2ea","labelPadding":7,"title":null}},"y2":{"datum":20}}},
{"data":{"name":"lp31_lim"},"mark":{"type":"line","interpolate":"step-after","stroke":"#FEB019","strokeWidth":2},"encoding":{"y":{"field":"e7","type":"quantitative","scale":{"domain":[20,80],"range":[201.7,51.7],"zero":false,"nice":false},"axis":{"orient":"left","offset":-49,"values":[20,30,40,50,60,70,80],"format":".1f","labelFont":"Liberation Sans","labelFontSize":8.5,"labelColor":"#4b5563","ticks":false,"domain":false,"grid":true,"gridColor":"#d9e2ea","labelPadding":7,"title":null}}}},
{"data":{"name":"lp31"},"mark":{"type":"point","filled":true,"size":0,"opacity":1},"encoding":{"y":{"field":"dt","type":"quantitative","scale":{"domain":[20,80],"range":[201.7,51.7],"zero":false,"nice":false},"axis":{"orient":"left","offset":-49,"values":[20,30,40,50,60,70,80],"format":".1f","labelFont":"Liberation Sans","labelFontSize":8.5,"labelColor":"#4b5563","ticks":false,"domain":false,"grid":true,"gridColor":"#d9e2ea","labelPadding":7,"title":null}},"color":{"datum":"LAeq_dt","type":"nominal","scale":{"domain":["LAeq_dt","LAeq_g1'","LAexp_07:00-19:00"],"range":["#008FFB","#00E396","#FEB019"]},"legend":{"orient":"none","legendX":100,"legendY":228,"direction":"horizontal","title":null,"symbolType":"circle","symbolSize":68,"symbolStrokeWidth":0,"symbolOpacity":1,"labelFont":"Liberation Sans","labelFontSize":9.3,"labelColor":"#373d3f","columnPadding":6.4,"labelOffset":4,"padding":0}}}},
{"data":{"name":"lp31"},"mark":{"type":"point","filled":true,"size":0,"opacity":1},"encoding":{"y":{"field":"g1","type":"quantitative","scale":{"domain":[20,80],"range":[201.7,51.7],"zero":false,"nice":false},"axis":{"orient":"left","offset":-49,"values":[20,30,40,50,60,70,80],"format":".1f","labelFont":"Liberation Sans","labelFontSize":8.5,"labelColor":"#4b5563","ticks":false,"domain":false,"grid":true,"gridColor":"#d9e2ea","labelPadding":7,"title":null}},"color":{"datum":"LAeq_g1'","type":"nominal","scale":{"domain":["LAeq_dt","LAeq_g1'","LAexp_07:00-19:00"],"range":["#008FFB","#00E396","#FEB019"]},"legend":{"orient":"none","legendX":100,"legendY":228,"direction":"horizontal","title":null,"symbolType":"circle","symbolSize":68,"symbolStrokeWidth":0,"symbolOpacity":1,"labelFont":"Liberation Sans","labelFontSize":9.3,"labelColor":"#373d3f","columnPadding":6.4,"labelOffset":4,"padding":0}}}},
{"data":{"name":"lp31_lim"},"mark":{"type":"point","filled":true,"size":0,"opacity":1},"encoding":{"y":{"field":"e7","type":"quantitative","scale":{"domain":[20,80],"range":[201.7,51.7],"zero":false,"nice":false},"axis":{"orient":"left","offset":-49,"values":[20,30,40,50,60,70,80],"format":".1f","labelFont":"Liberation Sans","labelFontSize":8.5,"labelColor":"#4b5563","ticks":false,"domain":false,"grid":true,"gridColor":"#d9e2ea","labelPadding":7,"title":null}},"color":{"datum":"LAexp_07:00-19:00","type":"nominal","scale":{"domain":["LAeq_dt","LAeq_g1'","LAexp_07:00-19:00"],"range":["#008FFB","#00E396","#FEB019"]},"legend":{"orient":"none","legendX":100,"legendY":228,"direction":"horizontal","title":null,"symbolType":"circle","symbolSize":68,"symbolStrokeWidth":0,"symbolOpacity":1,"labelFont":"Liberation Sans","labelFontSize":9.3,"labelColor":"#373d3f","columnPadding":6.4,"labelOffset":4,"padding":0}}}}
]
}
]
}
